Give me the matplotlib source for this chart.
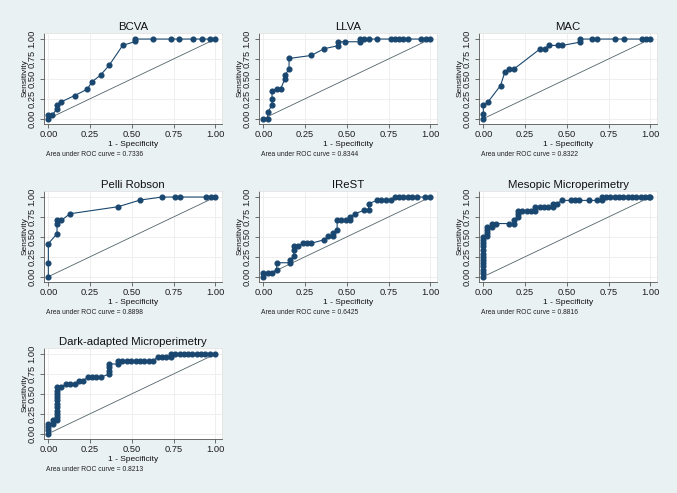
import matplotlib
matplotlib.use("Agg")
import matplotlib.pyplot as plt

plt.rcParams['font.family'] = ['Liberation Sans', 'DejaVu Sans']

W, H = 677, 493

titles = ["BCVA", "LLVA", "MAC", "Pelli Robson", "IReST",
          "Mesopic Microperimetry", "Dark-adapted Microperimetry"]
auc_values = [0.7336, 0.8344, 0.8322, 0.8898, 0.6425, 0.8816, 0.8213]

bcva_fpr = [0, 0, 0.024, 0.052, 0.052, 0.076, 0.157, 0.233, 0.26, 0.314, 0.364, 0.445, 0.521, 0.521,
            0.626, 0.734, 0.785, 0.865, 0.918, 0.97, 1.0]
bcva_tpr = [0, 0.05, 0.05, 0.12, 0.17, 0.21, 0.29, 0.37, 0.46, 0.55, 0.67, 0.92, 0.97, 1.0,
            1, 1, 1, 1, 1, 1, 1]

llva_fpr = [0, 0.026, 0.026, 0.052, 0.052, 0.052, 0.080, 0.104, 0.128, 0.128, 0.154, 0.154, 0.287,
            0.363, 0.446, 0.446, 0.492, 0.576, 0.576, 0.602, 0.63, 0.68, 0.763, 0.789, 0.815,
            0.839, 0.865, 0.944, 0.974, 1.0]
llva_tpr = [0, 0, 0.08, 0.17, 0.25, 0.345, 0.375, 0.375, 0.496, 0.546, 0.62, 0.756, 0.794,
            0.878, 0.916, 0.966, 0.966, 0.966, 1, 1, 1, 1, 1, 1, 1, 1, 1, 1, 1, 1]

mac_fpr = [0, 0, 0, 0.028, 0.103, 0.129, 0.155, 0.185, 0.341, 0.367, 0.391, 0.446, 0.474,
           0.581, 0.581, 0.653, 0.681, 0.786, 0.841, 0.948, 0.974, 1.0]
mac_tpr = [0, 0.059, 0.168, 0.21, 0.416, 0.588, 0.626, 0.626, 0.878, 0.878, 0.92, 0.92, 0.92,
           0.962, 1, 1, 1, 1, 1, 1, 1, 1]

pelli_fpr = [0, 0, 0, 0.052, 0.052, 0.052, 0.078, 0.129, 0.419, 0.549, 0.68, 0.761, 0.787,
             0.944, 0.974, 1.0]
pelli_tpr = [0, 0.176, 0.414, 0.54, 0.665, 0.707, 0.707, 0.79, 0.879, 0.962, 1, 1, 1, 1, 1, 1]

irest_fpr = [0, 0, 0.026, 0.052, 0.08, 0.08, 0.157, 0.157, 0.183, 0.183, 0.183, 0.209, 0.235,
             0.261, 0.287, 0.363, 0.39, 0.416, 0.416, 0.442, 0.442, 0.468, 0.494, 0.52, 0.52,
             0.548, 0.602, 0.63, 0.63, 0.681, 0.707, 0.737, 0.763, 0.789, 0.813, 0.839, 0.865,
             0.892, 0.918, 0.97, 1.0]
irest_tpr = [0, 0.05, 0.05, 0.05, 0.0875, 0.175, 0.175, 0.2125, 0.254, 0.333, 0.383, 0.383, 0.42,
             0.42, 0.42, 0.4625, 0.508, 0.508, 0.55, 0.59, 0.708, 0.708, 0.708, 0.708, 0.75,
             0.79, 0.833, 0.833, 0.917, 0.958, 0.958, 0.958, 0.958, 1, 1, 1, 1,
             1, 1, 1, 1]

meso_fpr = [0, 0, 0, 0, 0, 0, 0, 0, 0, 0, 0, 0, 0,
            0.024, 0.024, 0.024, 0.024, 0.05, 0.05, 0.076, 0.155, 0.181, 0.181,
            0.207, 0.207, 0.207, 0.233, 0.259, 0.285, 0.312, 0.312, 0.338, 0.364, 0.39,
            0.417, 0.417, 0.443, 0.469, 0.523, 0.549, 0.575, 0.63, 0.682, 0.708, 0.708,
            0.734, 0.76, 0.786, 0.812, 0.838, 0.864, 0.89, 0.916, 0.942, 0.968, 0.99, 1.0]
meso_tpr = [0, 0.04, 0.08, 0.13, 0.17, 0.21, 0.25, 0.29, 0.33, 0.38, 0.42, 0.46, 0.50,
            0.51, 0.55, 0.59, 0.625, 0.625, 0.667, 0.667, 0.667, 0.667, 0.708,
            0.75, 0.79, 0.83, 0.83, 0.83, 0.83, 0.83, 0.875, 0.875, 0.875, 0.875,
            0.875, 0.917, 0.917, 0.958, 0.958, 0.958, 0.958, 0.958, 0.958, 0.958, 1.0,
            1, 1, 1, 1, 1, 1, 1, 1, 1, 1, 1, 1]

dark_fpr = [0, 0, 0, 0, 0.026, 0.026, 0.052, 0.052, 0.052, 0.052, 0.052, 0.052, 0.052, 0.052,
            0.052, 0.052, 0.052, 0.078, 0.105, 0.131, 0.157, 0.183, 0.209, 0.235, 0.261,
            0.287, 0.313, 0.366, 0.366, 0.366, 0.366, 0.418, 0.418, 0.444, 0.47, 0.496,
            0.522, 0.548, 0.575, 0.601, 0.628, 0.654, 0.68, 0.705, 0.732, 0.732, 0.758,
            0.79, 0.81, 0.836, 0.862, 0.888, 0.914, 0.94, 0.97, 1.0]
dark_tpr = [0, 0.042, 0.083, 0.125, 0.125, 0.167, 0.167, 0.21, 0.25, 0.29, 0.33, 0.375, 0.42,
            0.46, 0.5, 0.54, 0.583, 0.583, 0.625, 0.625, 0.625, 0.667, 0.667, 0.708, 0.708,
            0.708, 0.708, 0.75, 0.79, 0.833, 0.875, 0.875, 0.917, 0.917, 0.917, 0.917,
            0.917, 0.917, 0.917, 0.917, 0.917, 0.958, 0.958, 0.958, 0.958, 1.0, 1,
            1, 1, 1, 1, 1, 1, 1, 1, 1]

series = [(bcva_fpr, bcva_tpr), (llva_fpr, llva_tpr), (mac_fpr, mac_tpr),
          (pelli_fpr, pelli_tpr), (irest_fpr, irest_tpr), (meso_fpr, meso_tpr),
          (dark_fpr, dark_tpr)]

ticks = [0.0, 0.25, 0.5, 0.75, 1.0]
tick_labels = ["0.00", "0.25", "0.50", "0.75", "1.00"]

bg = "#eaf1f3"
navy = "#1a476f"

fig = plt.figure(figsize=(W / 100, H / 100), dpi=100, facecolor=bg)

col_left = [44, 259, 479]
row_top = [33, 191, 348]
aw, ah = 178, 91

for i, (title, auc, (fx, ty)) in enumerate(zip(titles, auc_values, series)):
    r, c = divmod(i, 3)
    L, T = col_left[c], row_top[r]
    ax = fig.add_axes([L / W, 1 - (T + ah) / H, aw / W, ah / H])
    ax.set_facecolor("white")
    ax.set_xlim(-0.026, 1.04)
    ax.set_ylim(-0.067, 1.076)
    ax.set_xticks(ticks)
    ax.set_xticklabels(tick_labels)
    ax.set_yticks(ticks)
    ax.set_yticklabels(tick_labels, rotation=90, va="center")
    ax.grid(True, color="#ececec", linewidth=0.6)
    ax.set_axisbelow(True)
    for s in ["top", "right"]:
        ax.spines[s].set_color("#e3e3e3")
        ax.spines[s].set_linewidth(0.6)
    for s in ["left", "bottom"]:
        ax.spines[s].set_color("#555555")
        ax.spines[s].set_linewidth(0.6)
    ax.tick_params(length=3, width=0.6, color="#555555", labelsize=6.7,
                   labelcolor="#1e1e1e")
    ax.tick_params(axis="x", pad=1.5)
    ax.tick_params(axis="y", pad=2.4)
    ax.plot([0, 1], [0, 1], color="#52646a", linewidth=0.6, zorder=2)
    ax.plot(fx, ty, color=navy, linewidth=0.8, marker="o", markersize=3.4,
            markerfacecolor=navy, markeredgecolor=navy, zorder=3)
    ax.set_title(title, fontsize=8.2, pad=2.5, color="#111111")
    ax.set_xlabel("1 - Specificity", fontsize=6.0, labelpad=1.2, color="#111111")
    ax.set_ylabel("Sensitivity", fontsize=6.0, labelpad=-0.8, color="#111111")
    ax.text(0.01, -0.335, "Area under ROC curve = %.4f" % auc, transform=ax.transAxes,
            fontsize=4.9, ha="left", va="center", color="#222222")

fig.savefig("out.png", dpi=100, facecolor=bg)
